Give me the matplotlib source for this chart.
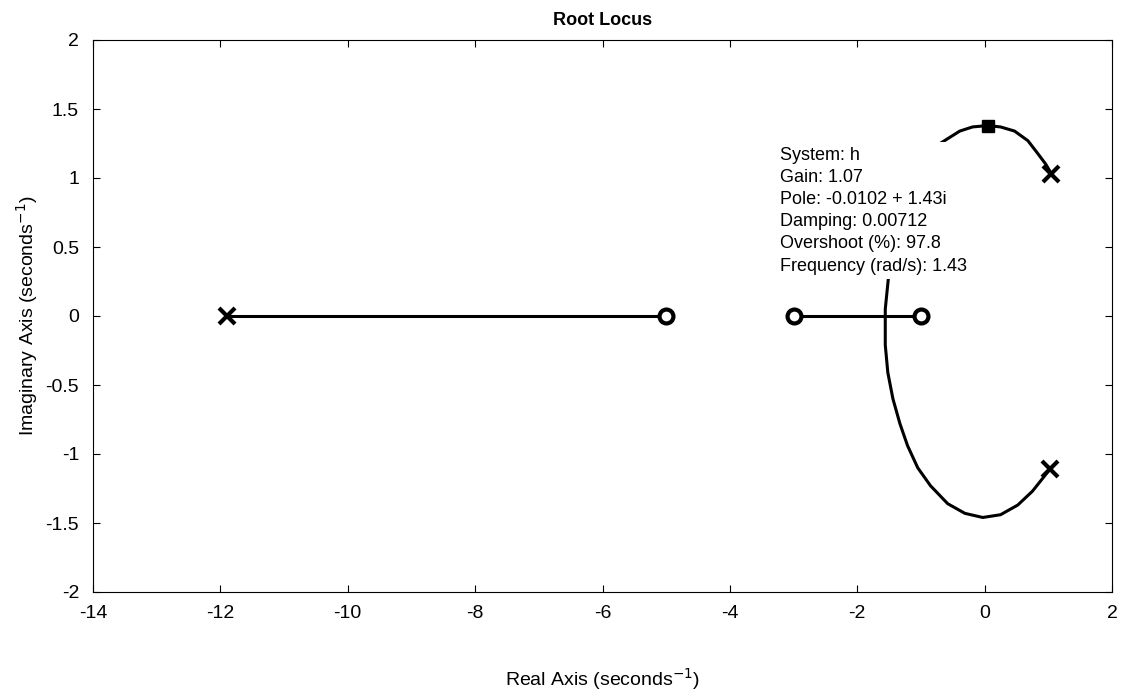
import matplotlib
matplotlib.use("Agg")
import matplotlib.pyplot as plt
import numpy as np

plt.rcParams['font.family'] = ['Liberation Sans', 'DejaVu Sans']
plt.rcParams['axes.unicode_minus'] = False

# poles and zeros
pole_re = [-11.9, 1.05, 1.02]
pole_im = [0.0, 1.03, -1.11]
zero_re = [-5.0, -3.0, -1.0]
zero_im = [0.0, 0.0, 0.0]

# real axis branches
seg1_re = [-11.9, -5.0]
seg1_im = [0.0, 0.0]
seg2_re = [-3.0, -1.0]
seg2_im = [0.0, 0.0]

# complex branch, from the upper pole over the top, down through the real axis,
# round the bottom and back up to the lower pole
branch_re = [1.05, 0.96, 0.83, 0.68, 0.47, 0.25, 0.05, -0.19, -0.39,
             -0.70, -1.00, -1.25, -1.42, -1.51,
             -1.56, -1.56, -1.52, -1.44, -1.33, -1.21, -1.05, -0.85, -0.58,
             -0.31, -0.03, 0.25, 0.52, 0.75, 0.94, 1.02]
branch_im = [1.03, 1.10, 1.18, 1.27, 1.34, 1.37, 1.38, 1.37, 1.34,
             1.25, 1.05, 0.80, 0.55, 0.28,
             0.05, -0.21, -0.41, -0.60, -0.78, -0.94, -1.10, -1.23, -1.36,
             -1.43, -1.46, -1.44, -1.37, -1.27, -1.16, -1.11]

# data tip
tip_re = 0.05
tip_im = 1.38
tip_lines = ["System: h",
             "Gain: 1.07",
             "Pole: -0.0102 + 1.43i",
             "Damping: 0.00712",
             "Overshoot (%): 97.8",
             "Frequency (rad/s): 1.43"]

fig = plt.figure(figsize=(11.28, 6.97), dpi=100)
ax = fig.add_axes([93 / 1128, 1 - 592 / 697, 1019 / 1128, 552 / 697])

ax.plot(seg1_re, seg1_im, color='k', lw=2.2, zorder=2)
ax.plot(seg2_re, seg2_im, color='k', lw=2.2, zorder=2)
ax.plot(branch_re, branch_im, color='k', lw=2.2, zorder=2,
        solid_joinstyle='round')

ax.plot(pole_re, pole_im, linestyle='none', marker='x', color='k',
        markersize=12, markeredgewidth=3, zorder=4)
ax.plot(zero_re, zero_im, linestyle='none', marker='o', markerfacecolor='white',
        markeredgecolor='k', markersize=10, markeredgewidth=3, zorder=4)
ax.plot([tip_re], [tip_im], linestyle='none', marker='s', color='k',
        markersize=8, zorder=5)

ax.text(0.674, 0.807, "\n".join(tip_lines), transform=ax.transAxes,
        ha='left', va='top', fontsize=13, linespacing=1.4,
        bbox=dict(facecolor='white', edgecolor='none', pad=3), zorder=3)

ax.set_xlim(-14, 2)
ax.set_ylim(-2, 2)
ax.set_xticks(np.arange(-14, 3, 2))
ax.set_yticks(np.arange(-2, 2.01, 0.5))
ax.set_yticklabels(['-2', '-1.5', '-1', '-0.5', '0', '0.5', '1', '1.5', '2'])
ax.tick_params(direction='in', length=5, width=0.8, top=True, right=True,
               labelsize=14)
ax.tick_params(axis='y', pad=10)
ax.tick_params(axis='x', pad=9)
for s in ax.spines.values():
    s.set_linewidth(0.8)

ax.set_title("Root Locus", fontsize=13, fontweight='bold', pad=11)
ax.set_xlabel("Real Axis (seconds$^{-1}$)", fontsize=14, labelpad=32)
ax.set_ylabel("Imaginary Axis (seconds$^{-1}$)", fontsize=14, labelpad=4)

fig.savefig("out.png", dpi=100)
